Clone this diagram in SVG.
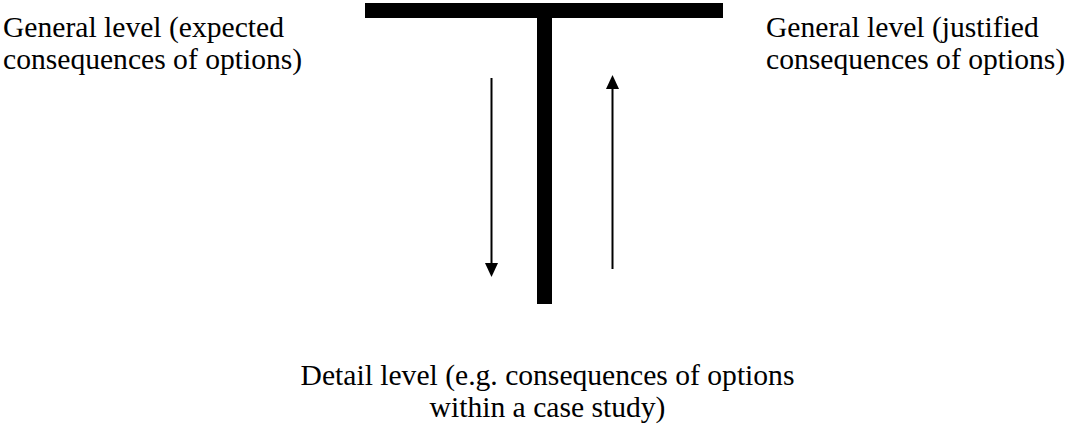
<svg xmlns="http://www.w3.org/2000/svg" width="1069" height="427" viewBox="0 0 1069 427">
<style>
text{font-family:"Liberation Serif","Times New Roman",serif;font-size:29.6px;fill:#000}
.bar{fill:#000}
.arr{stroke:#000;stroke-width:2;fill:none}
.head{fill:#000}
</style>
<rect width="1069" height="427" fill="#fff"/>
<g id="t-shape">
<rect class="bar" x="365" y="3" width="358" height="15"/>
<rect class="bar" x="537" y="18" width="15" height="286"/>
</g>
<g id="connectors">
<path class="arr" d="M491.5,78 L491.5,264"/>
<polygon class="head" points="485,263 498,263 491.5,277"/>
<path class="arr" d="M612.5,269 L612.5,88"/>
<polygon class="head" points="606,89 619,89 612.5,75"/>
</g>
<g id="node-general-expected">
<text x="3" y="37">General level (expected</text>
<text x="3" y="69">consequences of options)</text>
</g>
<g id="node-general-justified">
<text x="766" y="37">General level (justified</text>
<text x="766" y="69">consequences of options)</text>
</g>
<g id="node-detail">
<text x="547.5" y="385" text-anchor="middle">Detail level (e.g. consequences of options</text>
<text x="547.5" y="417" text-anchor="middle">within a case study)</text>
</g>
</svg>
